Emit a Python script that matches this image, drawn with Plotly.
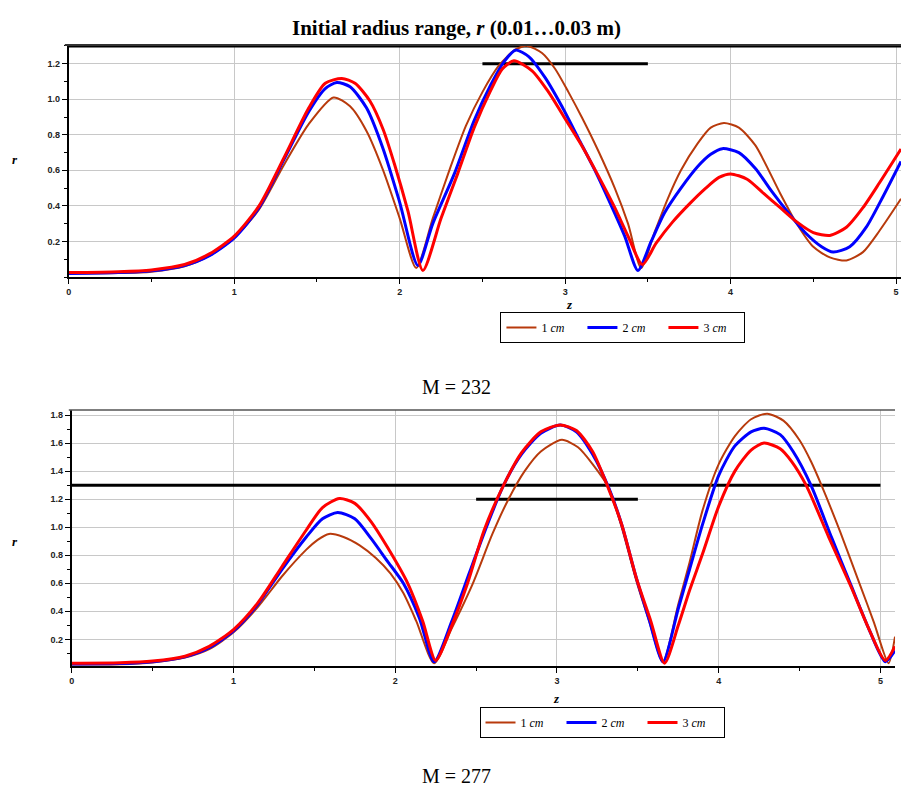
import plotly.graph_objects as go

# ---------------- data: M = 232 (top panel) ----------------
top_z_1cm = [0, 0.3, 0.5, 0.7, 0.85, 1.0, 1.15, 1.3, 1.45, 1.6, 1.7, 1.8, 1.9, 2.0, 2.1,
             2.2, 2.3, 2.4, 2.5, 2.6, 2.7, 2.77, 2.86, 2.94, 3.02, 3.1, 3.2, 3.3, 3.38, 3.46,
             3.54, 3.62, 3.7, 3.8, 3.88, 3.96, 4.05, 4.15, 4.3, 4.4, 4.5, 4.6, 4.7, 4.8, 4.9, 5.03]
top_r_1cm = [0.02, 0.022, 0.03, 0.06, 0.12, 0.22, 0.38, 0.63, 0.86, 1.01, 0.96, 0.82, 0.6, 0.33, 0.05,
             0.33, 0.6, 0.85, 1.04, 1.19, 1.28, 1.30, 1.26, 1.17, 1.04, 0.9, 0.71, 0.5, 0.3, 0.05,
             0.25, 0.44, 0.6, 0.75, 0.84, 0.866, 0.84, 0.74, 0.47, 0.30, 0.17, 0.11, 0.093, 0.14, 0.26, 0.44]

top_z_2cm = [0, 0.3, 0.5, 0.7, 0.85, 1.0, 1.15, 1.3, 1.45, 1.55, 1.62, 1.7, 1.8, 1.9, 2.0, 2.11,
             2.2, 2.33, 2.45, 2.55, 2.63, 2.70, 2.78, 2.88, 2.98, 3.08, 3.18, 3.27, 3.36, 3.44,
             3.52, 3.6, 3.7, 3.8, 3.88, 3.95, 4.05, 4.15, 4.25, 4.35, 4.45, 4.55, 4.62, 4.72, 4.82, 4.92, 5.03]
top_r_2cm = [0.02, 0.025, 0.035, 0.065, 0.12, 0.22, 0.39, 0.66, 0.93, 1.06, 1.094, 1.07, 0.95, 0.72, 0.42, 0.065,
             0.3, 0.58, 0.88, 1.08, 1.21, 1.276, 1.24, 1.12, 0.96, 0.78, 0.6, 0.42, 0.23, 0.037,
             0.2, 0.36, 0.5, 0.62, 0.69, 0.722, 0.70, 0.61, 0.48, 0.36, 0.25, 0.17, 0.14, 0.17, 0.28, 0.45, 0.65]

top_z_3cm = [0, 0.3, 0.5, 0.7, 0.85, 1.0, 1.15, 1.3, 1.45, 1.55, 1.65, 1.73, 1.82, 1.9, 1.97, 2.05, 2.14,
             2.25, 2.35, 2.45, 2.55, 2.62, 2.69, 2.8, 2.9, 3.0, 3.1, 3.2, 3.3, 3.38, 3.467,
             3.55, 3.65, 3.75, 3.85, 3.93, 4.0, 4.1, 4.2, 4.3, 4.4, 4.5, 4.6, 4.7, 4.8, 4.9, 5.03]
top_r_3cm = [0.025, 0.03, 0.04, 0.07, 0.13, 0.23, 0.40, 0.67, 0.95, 1.09, 1.117, 1.09, 0.99, 0.83, 0.63, 0.37, 0.037,
             0.33, 0.58, 0.84, 1.05, 1.17, 1.216, 1.16, 1.04, 0.89, 0.74, 0.57, 0.39, 0.23, 0.07,
             0.19, 0.31, 0.41, 0.5, 0.56, 0.58, 0.55, 0.47, 0.39, 0.31, 0.25, 0.234, 0.28, 0.39, 0.53, 0.72]

# ---------------- data: M = 277 (bottom panel) ----------------
bot_z_1cm = [0, 0.3, 0.5, 0.7, 0.85, 1.0, 1.15, 1.3, 1.45, 1.52, 1.59, 1.68, 1.78, 1.88, 1.97, 2.05, 2.13, 2.24,
             2.35, 2.48, 2.6, 2.7, 2.8, 2.9, 3.03, 3.13, 3.22, 3.32, 3.4, 3.49, 3.57, 3.655,
             3.75, 3.82, 3.9, 4.0, 4.1, 4.2, 4.3, 4.4, 4.5, 4.57, 4.635, 4.75, 4.87, 4.96, 5.05, 5.09]
bot_r_1cm = [0.02, 0.022, 0.035, 0.07, 0.13, 0.25, 0.43, 0.65, 0.84, 0.91, 0.952, 0.93, 0.87, 0.78, 0.67, 0.53, 0.33, 0.03,
             0.28, 0.6, 0.95, 1.2, 1.4, 1.54, 1.623, 1.57, 1.45, 1.28, 1.0, 0.62, 0.33, 0.04,
             0.45, 0.75, 1.12, 1.45, 1.65, 1.77, 1.81, 1.76, 1.62, 1.47, 1.3, 0.97, 0.6, 0.32, 0.03, 0.22]

bot_z_2cm = [0, 0.3, 0.5, 0.7, 0.85, 1.0, 1.15, 1.3, 1.45, 1.55, 1.644, 1.75, 1.85, 1.95, 2.05, 2.15, 2.24,
             2.35, 2.46, 2.57, 2.67, 2.78, 2.9, 3.02, 3.12, 3.22, 3.32, 3.4, 3.49, 3.57, 3.655,
             3.75, 3.82, 3.9, 4.0, 4.1, 4.2, 4.28, 4.38, 4.46, 4.57, 4.7, 4.82, 4.93, 5.03, 5.09]
bot_r_2cm = [0.025, 0.027, 0.04, 0.075, 0.14, 0.26, 0.45, 0.7, 0.93, 1.06, 1.105, 1.06, 0.92, 0.76, 0.6, 0.35, 0.04,
             0.33, 0.68, 1.02, 1.3, 1.52, 1.67, 1.729, 1.68, 1.52, 1.28, 1.02, 0.64, 0.34, 0.04,
             0.42, 0.7, 1.02, 1.37, 1.58, 1.68, 1.705, 1.66, 1.54, 1.3, 0.92, 0.58, 0.27, 0.04, 0.12]

bot_z_3cm = [0, 0.3, 0.5, 0.7, 0.85, 1.0, 1.15, 1.3, 1.45, 1.55, 1.655, 1.75, 1.85, 1.95, 2.077, 2.17, 2.25,
             2.35, 2.447, 2.55, 2.67, 2.78, 2.9, 3.02, 3.12, 3.22, 3.31, 3.4, 3.49, 3.58, 3.665,
             3.75, 3.82, 3.9, 4.0, 4.1, 4.2, 4.28, 4.38, 4.45, 4.54, 4.68, 4.82, 4.93, 5.03, 5.09]
bot_r_3cm = [0.03, 0.033, 0.045, 0.08, 0.15, 0.27, 0.46, 0.72, 0.98, 1.14, 1.204, 1.17, 1.04, 0.86, 0.6, 0.33, 0.05,
             0.3, 0.6, 0.98, 1.3, 1.53, 1.68, 1.729, 1.69, 1.54, 1.3, 1.02, 0.64, 0.33, 0.03,
             0.3, 0.55, 0.81, 1.15, 1.4, 1.55, 1.6, 1.56, 1.47, 1.3, 0.93, 0.57, 0.27, 0.05, 0.15]

# reference lines
top_long_z = [0, 5.03]
top_long_r = [1.3, 1.3]
top_short_z = [2.5, 3.5]
top_short_r = [1.2, 1.2]
bot_long_z = [0, 5.0]
bot_long_r = [1.3, 1.3]
bot_short_z = [2.5, 3.5]
bot_short_r = [1.2, 1.2]

series_names = ["1 <i>cm</i>", "2 <i>cm</i>", "3 <i>cm</i>"]
colors = ["#b83a0c", "#0000ff", "#ff0000"]
widths = [2, 3, 3]

top_tickvals_y = [0.2, 0.4, 0.6, 0.8, 1.0, 1.2]
bot_tickvals_y = [0.2, 0.4, 0.6, 0.8, 1.0, 1.2, 1.4, 1.6, 1.8]
tickvals_x = [0, 1, 2, 3, 4, 5]

# page body has an 8 px margin: map reference pixel coordinates accordingly,
# and keep the page inside the 909x794 window
OFF = 8
W, H = 909 - 2 * OFF, 794 - 2 * OFF


def px(x):
    return (x - OFF) / W


def py(y):
    return 1 - (y - OFF) / H


fig = go.Figure()

top_sets = [(top_z_1cm, top_r_1cm), (top_z_2cm, top_r_2cm), (top_z_3cm, top_r_3cm)]
bot_sets = [(bot_z_1cm, bot_r_1cm), (bot_z_2cm, bot_r_2cm), (bot_z_3cm, bot_r_3cm)]

for zz, rr in [(top_long_z, top_long_r), (top_short_z, top_short_r)]:
    fig.add_trace(go.Scatter(x=zz, y=rr, mode="lines", line=dict(color="black", width=3),
                             showlegend=False, xaxis="x", yaxis="y", hoverinfo="skip"))
for zz, rr in [(bot_long_z, bot_long_r), (bot_short_z, bot_short_r)]:
    fig.add_trace(go.Scatter(x=zz, y=rr, mode="lines", line=dict(color="black", width=3),
                             showlegend=False, xaxis="x2", yaxis="y2", hoverinfo="skip"))

for (zz, rr), name, c, w in zip(top_sets, series_names, colors, widths):
    fig.add_trace(go.Scatter(x=zz, y=rr, mode="lines", name=name,
                             line=dict(color=c, width=w, shape="spline", smoothing=0.7),
                             xaxis="x", yaxis="y", legend="legend"))
for (zz, rr), name, c, w in zip(bot_sets, series_names, colors, widths):
    fig.add_trace(go.Scatter(x=zz, y=rr, mode="lines", name=name,
                             line=dict(color=c, width=w, shape="spline", smoothing=0.7),
                             xaxis="x2", yaxis="y2", legend="legend2"))

tickfont = dict(family="Liberation Sans, Arial", size=9, color="#222", weight="bold")
common_x = dict(showline=True, linecolor="black", linewidth=2, ticks="outside", ticklen=5,
                tickcolor="black", tickwidth=1, showgrid=True, gridcolor="#c8c8c8", gridwidth=1,
                zeroline=False, tickfont=tickfont, tickvals=tickvals_x, ticklabeloverflow="allow",
                minor=dict(dtick=0.5, ticklen=3, tickcolor="black", showgrid=False))
common_y = dict(showline=True, linecolor="black", linewidth=2, ticks="outside", ticklen=5,
                tickcolor="black", tickwidth=1, showgrid=True, gridcolor="#c8c8c8", gridwidth=1,
                zeroline=False, tickfont=tickfont, tickformat=".1f",
                minor=dict(dtick=0.1, ticklen=3, tickcolor="black", showgrid=False))

legend_common = dict(orientation="h", bgcolor="white", bordercolor="black", borderwidth=1,
                     font=dict(family="Liberation Serif, Times New Roman", size=12, color="black"),
                     xanchor="center", yanchor="top", itemwidth=30, tracegroupgap=0,
                     entrywidth=36, entrywidthmode="pixels")

fig.update_layout(
    width=W, height=H,
    margin=dict(l=0, r=0, t=0, b=0),
    paper_bgcolor="white", plot_bgcolor="white",
    xaxis=dict(domain=[px(66), 1.0], range=[0, 5.03], anchor="y", **common_x),
    yaxis=dict(domain=[py(277), py(45)], range=[0, 1.305], anchor="x",
               tickvals=top_tickvals_y, **common_y),
    xaxis2=dict(domain=[px(69), px(895)], range=[0, 5.09], anchor="y2", **common_x),
    yaxis2=dict(domain=[py(666), py(410)], range=[0.01, 1.836], anchor="x2",
                tickvals=bot_tickvals_y, **common_y),
    legend=dict(x=px(622), y=py(312), **legend_common),
    legend2=dict(x=px(601), y=py(707), **legend_common),
    showlegend=True,
)

fig.add_shape(type="line", xref="paper", yref="paper", x0=px(62), x1=1.0, y0=py(45), y1=py(45),
              line=dict(color="#333", width=2))
fig.add_shape(type="line", xref="paper", yref="paper", x0=px(66), x1=px(895), y0=py(410), y1=py(410),
              line=dict(color="#555", width=1.5))

serif = "Liberation Serif, Times New Roman"
annots = [
    dict(x=px(455), y=py(28), text="<b>Initial radius range, <i>r</i> (0.01…0.03 m)</b>",
         font=dict(family=serif, size=21, color="black")),
    dict(x=px(455), y=py(387), text="M = 232", font=dict(family=serif, size=20, color="black")),
    dict(x=px(455), y=py(776), text="M = 277", font=dict(family=serif, size=20, color="black")),
    dict(x=px(12), y=py(160), text="<b><i>r</i></b>", font=dict(family=serif, size=13, color="black")),
    dict(x=px(12), y=py(541), text="<b><i>r</i></b>", font=dict(family=serif, size=13, color="black")),
    dict(x=px(568), y=py(304), text="<b><i>z</i></b>", font=dict(family=serif, size=13, color="black")),
    dict(x=px(555), y=py(698), text="<b><i>z</i></b>", font=dict(family=serif, size=13, color="black")),
]
for a in annots:
    fig.add_annotation(xref="paper", yref="paper", showarrow=False, xanchor="center",
                       yanchor="middle", **a)

fig.write_html("out.html")
